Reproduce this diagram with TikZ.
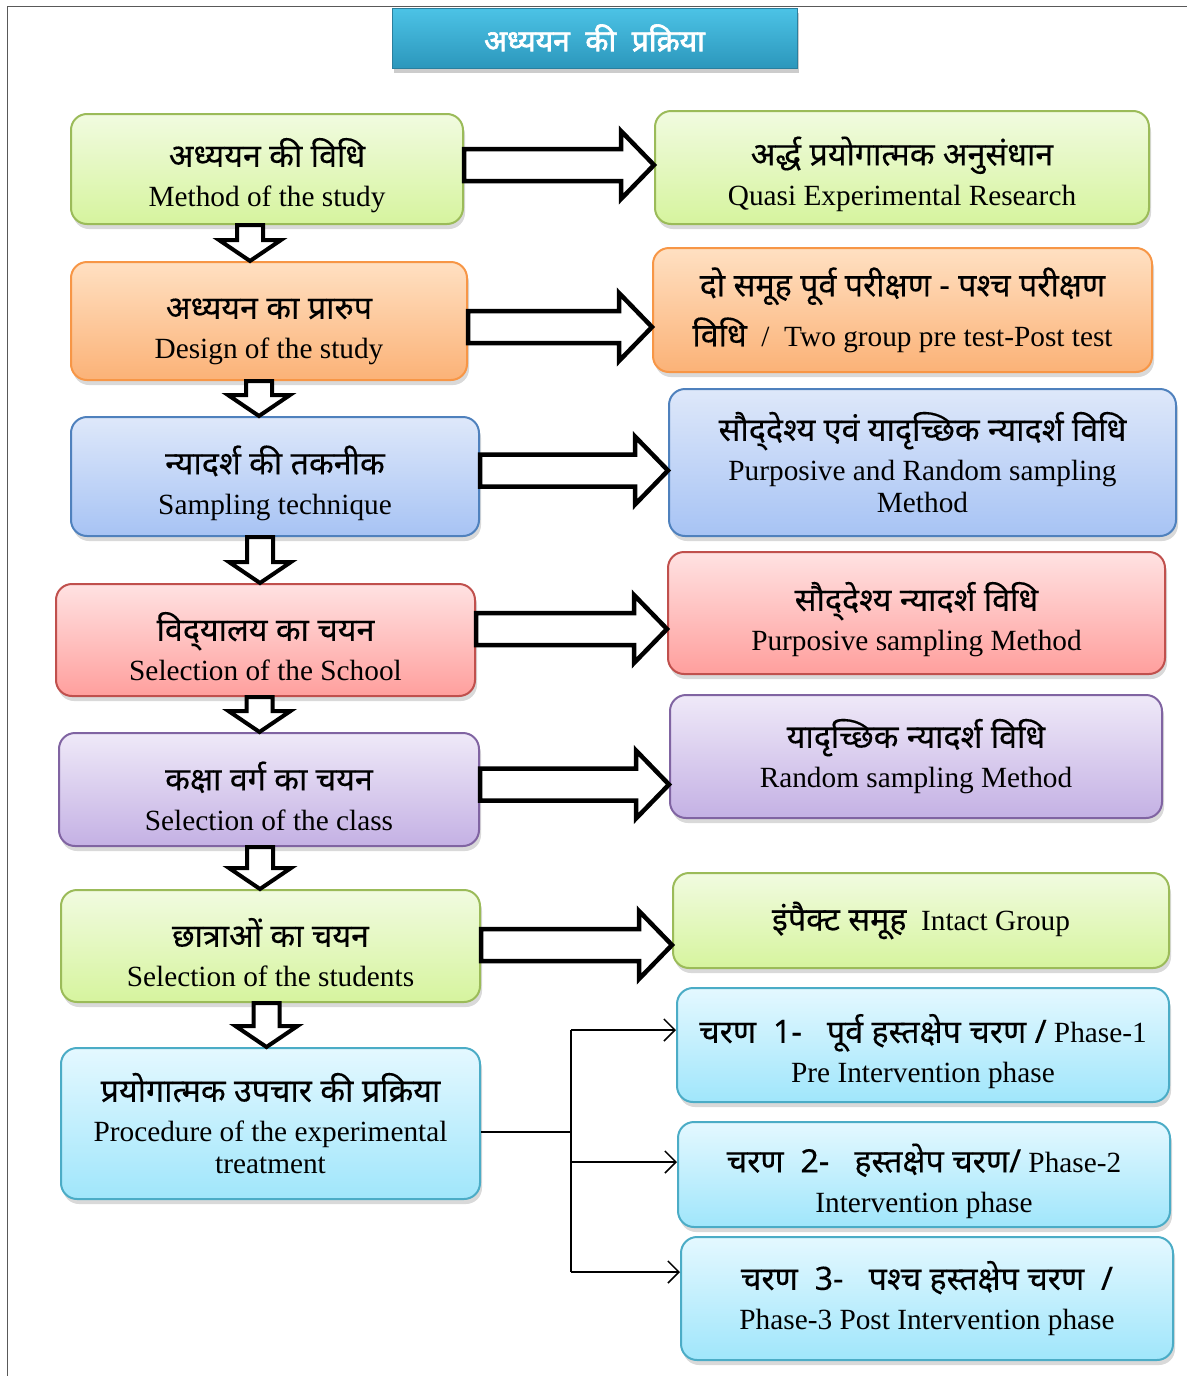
\documentclass[tikz,border=0pt]{standalone}
\usepackage{fontspec}
\setmainfont{Liberation Serif}
\newfontfamily\hindi[Script=Devanagari,Scale=1.1,FakeBold=0.25]{Noto Sans}
\newfontfamily\hinditop[Script=Devanagari,FakeBold=2.2]{Noto Sans}
\newcommand\hl[1]{{\hindi\rule{0pt}{42pt}#1}}
\usetikzlibrary{calc,shadows,arrows.meta}
\definecolor{grnT}{HTML}{F1FBE0}
\definecolor{grnD}{HTML}{D6F49E}
\definecolor{grnB}{HTML}{9BBB59}
\definecolor{orgT}{HTML}{FFE0C2}
\definecolor{orgD}{HTML}{FBB277}
\definecolor{orgB}{HTML}{F79646}
\definecolor{bluT}{HTML}{DEE8FA}
\definecolor{bluD}{HTML}{A7C3F4}
\definecolor{bluB}{HTML}{4F81BD}
\definecolor{redT}{HTML}{FFE2E2}
\definecolor{redD}{HTML}{FF9F9D}
\definecolor{redB}{HTML}{C0504D}
\definecolor{vioT}{HTML}{EFE9F8}
\definecolor{vioD}{HTML}{C4B1E4}
\definecolor{vioB}{HTML}{8064A2}
\definecolor{cyaT}{HTML}{E4F8FF}
\definecolor{cyaD}{HTML}{A0E6FB}
\definecolor{cyaB}{HTML}{4BACC6}
\definecolor{ttlT}{HTML}{4CC3E6}
\definecolor{ttlD}{HTML}{2C97BC}
\definecolor{ttlB}{HTML}{2A7F9E}
\tikzset{
  box/.style={rounded corners=16pt, line width=2pt, align=center, inner sep=2pt,
    font=\fontsize{29.3}{40}\selectfont,
    drop shadow={opacity=0.3, shadow xshift=2pt, shadow yshift=-5pt}},
  greenbox/.style={box, draw=grnB, top color=grnT, bottom color=grnD},
  orangebox/.style={box, draw=orgB, top color=orgT, bottom color=orgD},
  bluebox/.style={box, draw=bluB, top color=bluT, bottom color=bluD},
  redbox/.style={box, draw=redB, top color=redT, bottom color=redD},
  violetbox/.style={box, draw=vioB, top color=vioT, bottom color=vioD},
  cyanbox/.style={box, draw=cyaB, top color=cyaT, bottom color=cyaD},
  titlebox/.style={draw=ttlB, line width=1pt, top color=ttlT, bottom color=ttlD,
    text=white, font=\hinditop\fontsize{30}{34}\selectfont,
    drop shadow={opacity=0.4, shadow xshift=2pt, shadow yshift=-5pt}},
  rightarr/.style={draw=black, line width=4.5pt, fill=white,
    to path={let \p1=(\tikztostart), \p2=(\tikztotarget) in
      (\x1,\y1+16pt) -- (\x2-33pt,\y1+16pt) -- (\x2-33pt,\y1+34pt) -- (\x2,\y1)
      -- (\x2-33pt,\y1-34pt) -- (\x2-33pt,\y1-16pt) -- (\x1,\y1-16pt) -- cycle}},
  downarr/.style={draw=black, line width=4pt, fill=white,
    to path={let \p1=(\tikztostart), \p2=(\tikztotarget) in
      (\x1-13pt,\y1) -- (\x1-13pt,\y2+21pt) -- (\x1-31pt,\y2+21pt) -- (\x1,\y2)
      -- (\x1+31pt,\y2+21pt) -- (\x1+13pt,\y2+21pt) -- (\x1+13pt,\y1) -- cycle}},
  link/.style={line width=1.5pt, -{Straight Barb[length=11pt,width=22pt]}}
}

\begin{document}
\begin{tikzpicture}[x=1pt,y=-1pt]
\useasboundingbox (0,0) rectangle (1187,1376);
\draw [gray!70!black, line width=1pt] (7,1376) -- (7,6) -- (1187,6);
%
\node (title) [titlebox, minimum width=405pt, minimum height=60pt] at (594.5,38) {अध्ययन \ की \ प्रक्रिया};
%
\node (m1) [greenbox, minimum width=392pt, minimum height=110pt] at (267,169) {\hl{अध्ययन की विधि}\\Method of the study};
\node (m2) [orangebox, minimum width=396pt, minimum height=118pt] at (269,321) {\hl{अध्ययन का प्रारुप}\\Design of the study};
\node (m3) [bluebox, minimum width=408pt, minimum height=119pt] at (275,476.5) {\hl{न्यादर्श की तकनीक}\\Sampling technique};
\node (m4) [redbox, minimum width=419pt, minimum height=112pt] at (265.5,640) {\hl{विद्‌यालय का चयन}\\Selection of the School};
\node (m5) [violetbox, minimum width=420pt, minimum height=113pt] at (269,789.5) {\hl{कक्षा वर्ग का चयन}\\Selection of the class};
\node (m6) [greenbox, minimum width=419pt, minimum height=112pt] at (270.5,946) {\hl{छात्राओं का चयन}\\Selection of the students};
\node (m7) [cyanbox, minimum width=419pt, minimum height=151pt] at (270.5,1123.5) {{\hindi प्रयोगात्मक उपचार की प्रक्रिया}\\Procedure of the experimental\\[-8pt]treatment};
%
\node (r1) [greenbox, minimum width=494pt, minimum height=113pt] at (902,167.5) {\hl{अर्द्ध प्रयोगात्मक अनुसंधान}\\Quasi Experimental Research};
\node (r2) [orangebox, minimum width=499pt, minimum height=124pt] at (902.5,310) {{\hindi दो समूह पूर्व परीक्षण - पश्च परीक्षण}\\[10pt]{\hindi विधि} \ / \ Two group pre test-Post test};
\node (r3) [bluebox, minimum width=507pt, minimum height=147pt] at (922.5,462.5) {{\hindi सौद्‌देश्य एवं यादृच्छिक न्यादर्श विधि}\\Purposive and Random sampling\\[-8pt]Method};
\node (r4) [redbox, minimum width=497pt, minimum height=122pt] at (916.5,613) {\hl{सौद्‌देश्य न्यादर्श विधि}\\Purposive sampling Method};
\node (r5) [violetbox, minimum width=492pt, minimum height=123pt] at (916,756.5) {{\hindi यादृच्छिक न्यादर्श विधि}\\Random sampling Method};
\node (r6) [greenbox, minimum width=496pt, minimum height=95pt] at (921,920.5) {{\hindi इंपैक्ट समूह} \ Intact Group};
%
\node (p1) [cyanbox, minimum width=492pt, minimum height=114pt] at (923,1045) {\hl{चरण \ 1- \ \ पूर्व हस्तक्षेप चरण /} Phase-1\\Pre Intervention phase};
\node (p2) [cyanbox, minimum width=492pt, minimum height=105pt] at (924,1174.5) {\hl{चरण \ 2- \ \ हस्तक्षेप चरण/} Phase-2\\Intervention phase};
\node (p3) [cyanbox, minimum width=492pt, minimum height=123pt] at (927,1298.5) {{\hindi चरण \ 3- \ \ पश्च हस्तक्षेप चरण \ /}\\Phase-3 Post Intervention phase};
%
\draw [rightarr] ([yshift=4pt]m1.east) to (r1.west);
\draw [rightarr] ([yshift=-6pt]m2.east) to (r2.west);
\draw [rightarr] ([yshift=6pt]m3.east) to (r3.west);
\draw [rightarr] ([yshift=11pt]m4.east) to (r4.west);
\draw [rightarr] ([yshift=5pt]m5.east) to (r5.west);
\draw [rightarr] ([yshift=1pt]m6.east) to (r6.west);
%
\draw [downarr] ([xshift=-17pt]m1.south) to (m2.north);
\draw [downarr] ([xshift=-10pt]m2.south) to (m3.north);
\draw [downarr] ([xshift=-15pt]m3.south) to (m4.north);
\draw [downarr] ([xshift=-6pt]m4.south) to (m5.north);
\draw [downarr] ([xshift=-9pt]m5.south) to (m6.north);
\draw [downarr] ([xshift=-4pt]m6.south) to (m7.north);
%
\coordinate (j) at (571,1132);
\draw [line width=1.5pt] (m7.east |- j) -- (j);
\draw [line width=1.5pt] (571,1030) -- (571,1272);
\draw [link] (571,1030) -- ([yshift=15pt]p1.west);
\draw [link] (571,1162) -- ([yshift=12.5pt]p2.west);
\draw [link] (571,1272) -- ([yshift=26.5pt]p3.west);
\end{tikzpicture}
\end{document}
